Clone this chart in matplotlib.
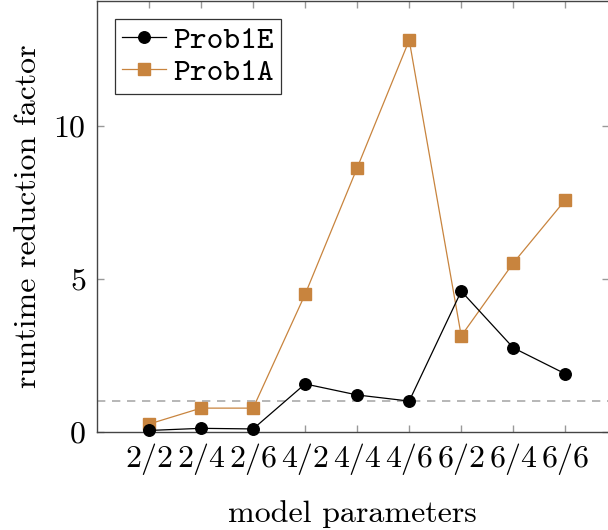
import matplotlib
matplotlib.use("Agg")
import matplotlib.pyplot as plt

# data
params = ["2/2", "2/4", "2/6", "4/2", "4/4", "4/6", "6/2", "6/4", "6/6"]
prob1e = [0.05, 0.12, 0.10, 1.57, 1.21, 1.01, 4.60, 2.75, 1.90]
prob1a = [0.26, 0.78, 0.78, 4.50, 8.63, 12.80, 3.14, 5.52, 7.58]
y_ticks = [0, 5, 10]

plt.rcParams["font.family"] = ["cmr10", "DejaVu Serif"]
plt.rcParams["axes.formatter.use_mathtext"] = True
plt.rcParams["mathtext.fontset"] = "cm"

fig = plt.figure(figsize=(6.08, 5.30), dpi=100)
ax = fig.add_axes([97 / 608, (530 - 432) / 530, 511.5 / 608, 431 / 530])

x = list(range(len(params)))

ax.axhline(1, color="#aaaaaa", linestyle=(0, (5, 4)), linewidth=1.2, zorder=1)

ax.plot(x, prob1e, color="black", marker="o", markersize=8.3,
        linewidth=0.9, label="Prob1E", zorder=3, clip_on=False)
ax.plot(x, prob1a, color="#c8843e", marker="s", markersize=8.5,
        linewidth=0.9, label="Prob1A", zorder=2, clip_on=False)

ax.set_xlim(-1, 8.83)
ax.set_ylim(0, 14.08)
ax.set_xticks(x)
ax.set_xticklabels(params)
ax.set_yticks(y_ticks)

ax.tick_params(direction="in", top=True, right=True, length=5,
               color="#999999", width=1.0, labelsize=23, pad=8)
for sp in ax.spines.values():
    sp.set_color("#444444")
    sp.set_linewidth(1.0)

ax.set_xlabel("model parameters", fontsize=23, labelpad=18)
ax.set_ylabel("runtime reduction factor", fontsize=23, labelpad=8)

leg = ax.legend(loc="upper left", prop={"family": ["cmtt10", "DejaVu Sans Mono"], "size": 23},
                frameon=True, fancybox=False, edgecolor="black",
                borderpad=0.22, handlelength=1.4, handletextpad=0.22,
                labelspacing=0.08, borderaxespad=0.55)
leg.get_frame().set_linewidth(0.9)

fig.savefig("out.png", dpi=100)
